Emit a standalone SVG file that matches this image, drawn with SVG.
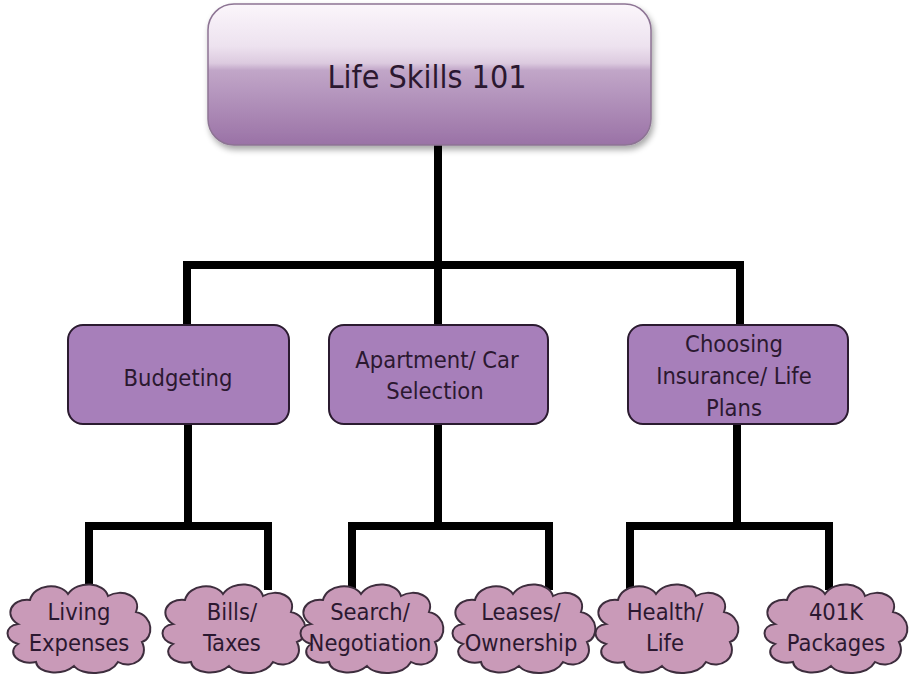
<svg xmlns="http://www.w3.org/2000/svg" width="914" height="679" viewBox="0 0 914 679">
<defs>
<linearGradient id="topGrad" x1="0" y1="0" x2="0" y2="1">
<stop offset="0" stop-color="#fbf6fb"/>
<stop offset="0.3" stop-color="#ede2ef"/>
<stop offset="0.42" stop-color="#dccadf"/>
<stop offset="0.47" stop-color="#c1a6c8"/>
<stop offset="1" stop-color="#9a72a6"/>
</linearGradient>
<filter id="shadow" x="-10%" y="-10%" width="120%" height="130%">
<feGaussianBlur in="SourceAlpha" stdDeviation="3"/>
<feOffset dx="2" dy="4" result="b"/>
<feComponentTransfer><feFuncA type="linear" slope="0.35"/></feComponentTransfer>
<feMerge><feMergeNode/><feMergeNode in="SourceGraphic"/></feMerge>
</filter>
<path id="cloud" d="M 14,44 C 0,36 6,18 26,20 C 30,4 56,2 64,14 C 74,0 100,2 104,16 C 118,8 138,16 132,32 C 150,36 150,58 138,62 C 146,78 128,90 114,82 C 106,96 78,96 70,86 C 58,96 34,94 32,82 C 14,86 2,72 14,64 C 0,60 0,46 14,44 Z"/>
</defs>
<style>
text { font-family: "DejaVu Sans Condensed", "DejaVu Sans", sans-serif; fill: #2b1830; text-anchor: middle; }
.lbl { font-size: 23.5px; }
.title { font-size: 32px; }
.box { fill: #a77fba; stroke: #2b1b30; stroke-width: 2; }
.cloud { fill: #c99ab8; stroke: #3d2d3d; stroke-width: 2; }
.conn { fill: none; stroke: #000; stroke-width: 8; stroke-linecap: butt; stroke-linejoin: miter; }
</style>
<rect width="914" height="679" fill="#ffffff"/>

<g id="connectors">
<line class="conn" x1="438" y1="145" x2="438" y2="326"/>
<polyline class="conn" points="187,326 187,265 744,265"/>
<line class="conn" x1="740" y1="265" x2="740" y2="326"/>
<line class="conn" x1="188" y1="424" x2="188" y2="526"/>
<polyline class="conn" points="89,590 89,526 268,526 268,590"/>
<line class="conn" x1="438" y1="424" x2="438" y2="526"/>
<polyline class="conn" points="352,590 352,526 549,526 549,590"/>
<line class="conn" x1="737" y1="424" x2="737" y2="526"/>
<polyline class="conn" points="630,590 630,526 829,526 829,590"/>
</g>

<g id="root">
<rect x="208" y="4" width="443" height="141" rx="26" fill="url(#topGrad)" stroke="#8d7494" stroke-width="1.5" filter="url(#shadow)"/>
<text class="title" x="427" y="88">Life Skills 101</text>
</g>

<g id="budgeting">
<rect class="box" x="68" y="325" width="221" height="99" rx="15"/>
<text class="lbl" x="178" y="386">Budgeting</text>
</g>
<g id="apartment">
<rect class="box" x="329" y="325" width="219" height="99" rx="15"/>
<text class="lbl" x="437" y="368">Apartment/ Car</text>
<text class="lbl" x="435" y="399">Selection</text>
</g>
<g id="insurance">
<rect class="box" x="628" y="325" width="220" height="99" rx="15"/>
<text class="lbl" x="734" y="352">Choosing</text>
<text class="lbl" x="734" y="384">Insurance/ Life</text>
<text class="lbl" x="734" y="416">Plans</text>
</g>

<g id="living">
<use href="#cloud" class="cloud" x="4" y="580"/>
<text class="lbl" x="79" y="620">Living</text>
<text class="lbl" x="79" y="651">Expenses</text>
</g>
<g id="bills">
<use href="#cloud" class="cloud" x="159" y="580"/>
<text class="lbl" x="232" y="620">Bills/</text>
<text class="lbl" x="232" y="651">Taxes</text>
</g>
<g id="search">
<use href="#cloud" class="cloud" x="297" y="580"/>
<text class="lbl" x="370" y="620">Search/</text>
<text class="lbl" x="370" y="651">Negotiation</text>
</g>
<g id="leases">
<use href="#cloud" class="cloud" x="449" y="580"/>
<text class="lbl" x="521" y="620">Leases/</text>
<text class="lbl" x="521" y="651">Ownership</text>
</g>
<g id="health">
<use href="#cloud" class="cloud" x="592" y="580"/>
<text class="lbl" x="665" y="620">Health/</text>
<text class="lbl" x="665" y="651">Life</text>
</g>
<g id="k401">
<use href="#cloud" class="cloud" x="761" y="580"/>
<text class="lbl" x="836" y="620">401K</text>
<text class="lbl" x="836" y="651">Packages</text>
</g>
</svg>
